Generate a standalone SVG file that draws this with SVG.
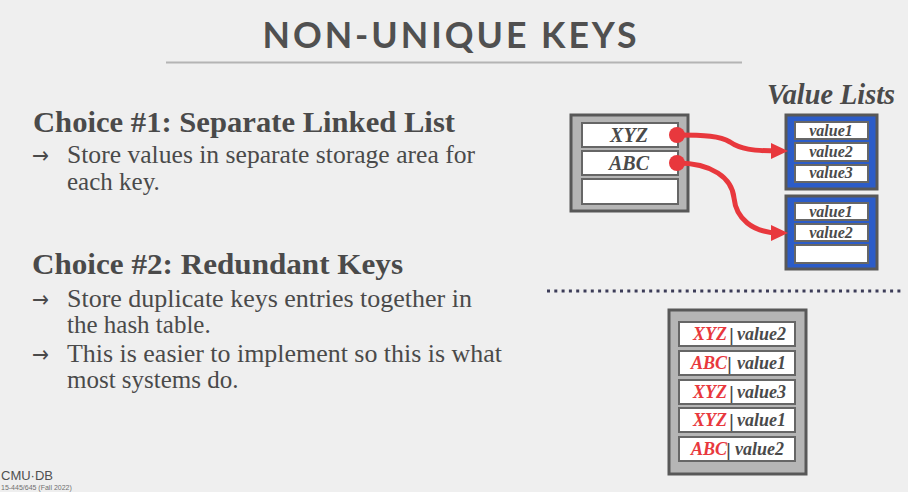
<svg xmlns="http://www.w3.org/2000/svg" width="908" height="492" viewBox="0 0 908 492">
  <defs>
    <style>
      .title { font-family: "Lato", "Liberation Sans", sans-serif; font-weight: 700; font-size: 36px; fill: #505050; letter-spacing: 3px; }
      .head { font-family: "Liberation Serif", "DejaVu Serif", serif; font-weight: 700; font-size: 29px; fill: #4a4a4a; }
      .txt { font-family: "Liberation Serif", "Times New Roman", "DejaVu Serif", serif; font-weight: 400; font-size: 25px; fill: #4a4a4a; }
      .arrow { font-family: "DejaVu Sans", sans-serif; font-size: 23px; fill: #4a4a4a; }
      .lbl { font-family: "Liberation Serif", "DejaVu Serif", serif; font-weight: 700; font-style: italic; fill: #4a4a4a; }
      .key { font-size: 20px; text-anchor: middle; }
      .val { font-size: 16px; text-anchor: middle; }
      .rowk { font-size: 18px; fill: #e8383d; text-anchor: end; }
      .rowv { font-size: 18px; }
      .bar { font-family: "Liberation Sans", sans-serif; font-size: 19px; fill: #4a4a4a; }
      .frame { fill: #b5b5b5; stroke: #585858; stroke-width: 3; }
      .vframe { fill: #2c5cc8; stroke: #585858; stroke-width: 3; }
      .slot { fill: #ffffff; stroke: #666666; stroke-width: 2; }
      .link { fill: none; stroke: #e8383d; stroke-width: 5; }
    </style>
    <marker id="head" viewBox="0 0 17 16" markerWidth="17" markerHeight="16" refX="9" refY="8" orient="auto" markerUnits="userSpaceOnUse">
      <path d="M0,0 L17,8 L0,16 z" fill="#e8383d"/>
    </marker>
  </defs>

  <rect width="908" height="492" fill="#efefef"/>

  <!-- heading -->
  <text class="title" x="451" y="48" text-anchor="middle" textLength="377" lengthAdjust="spacingAndGlyphs">NON-UNIQUE KEYS</text>
  <line x1="166" y1="62.5" x2="742" y2="62.5" stroke="#b4b4b4" stroke-width="2"/>

  <!-- bullet text -->
  <g id="choice1">
    <text class="head" x="33" y="132" textLength="422" lengthAdjust="spacingAndGlyphs">Choice #1: Separate Linked List</text>
    <text class="arrow" x="32" y="163" textLength="17" lengthAdjust="spacingAndGlyphs">→</text>
    <text class="txt" x="67" y="163" textLength="408" lengthAdjust="spacingAndGlyphs">Store values in separate storage area for</text>
    <text class="txt" x="67" y="190">each key.</text>
  </g>
  <g id="choice2">
    <text class="head" x="32" y="274" textLength="371" lengthAdjust="spacingAndGlyphs">Choice #2: Redundant Keys</text>
    <text class="arrow" x="32" y="307" textLength="17" lengthAdjust="spacingAndGlyphs">→</text>
    <text class="txt" x="67" y="307" textLength="405" lengthAdjust="spacingAndGlyphs">Store duplicate keys entries together in</text>
    <text class="txt" x="67" y="333">the hash table.</text>
    <text class="arrow" x="32" y="362" textLength="17" lengthAdjust="spacingAndGlyphs">→</text>
    <text class="txt" x="67" y="362" textLength="435" lengthAdjust="spacingAndGlyphs">This is easier to implement so this is what</text>
    <text class="txt" x="67" y="388">most systems do.</text>
  </g>

  <!-- hash table with one slot per key -->
  <g id="hash-table">
    <rect class="frame" x="571" y="115" width="117" height="96"/>
    <rect class="slot" x="582" y="123" width="96" height="24"/>
    <rect class="slot" x="582" y="151" width="96" height="24"/>
    <rect class="slot" x="582" y="179" width="96" height="25"/>
    <text class="lbl key" x="629" y="142">XYZ</text>
    <text class="lbl key" x="629" y="170">ABC</text>
  </g>

  <text class="lbl" x="767" y="104" font-size="30" textLength="128" lengthAdjust="spacingAndGlyphs">Value Lists</text>

  <g id="value-list-1">
    <rect class="vframe" x="786" y="115" width="91" height="74"/>
    <rect class="slot" x="795" y="122" width="73" height="17"/>
    <rect class="slot" x="795" y="143" width="73" height="18"/>
    <rect class="slot" x="795" y="165" width="73" height="17"/>
    <text class="lbl val" x="831" y="136">value1</text>
    <text class="lbl val" x="831" y="157">value2</text>
    <text class="lbl val" x="831" y="178">value3</text>
  </g>

  <g id="value-list-2">
    <rect class="vframe" x="786" y="196" width="91" height="73"/>
    <rect class="slot" x="795" y="203" width="73" height="17"/>
    <rect class="slot" x="795" y="224" width="73" height="17"/>
    <rect class="slot" x="795" y="245" width="73" height="18"/>
    <text class="lbl val" x="831" y="217">value1</text>
    <text class="lbl val" x="831" y="238">value2</text>
  </g>

  <g id="connectors">
    <path class="link" d="M677,135 C705,135 720,136 730,142 C740,149 752,151 780,151" marker-end="url(#head)"/>
    <path class="link" d="M677,163 C712,163 732,178 734,198 C736,218 752,233 780,233" marker-end="url(#head)"/>
    <circle cx="677" cy="135" r="8" fill="#e8383d"/>
    <circle cx="677" cy="163" r="8" fill="#e8383d"/>
  </g>

  <!-- separator -->
  <line x1="547" y1="291" x2="904" y2="291" stroke="#3c3c58" stroke-width="3" stroke-dasharray="3 4.3"/>

  <!-- hash table storing duplicate keys -->
  <g id="redundant-table">
    <rect class="frame" x="669" y="310" width="137" height="164"/>
    <rect class="slot" x="679" y="322" width="116" height="24"/>
    <rect class="slot" x="679" y="351" width="116" height="24"/>
    <rect class="slot" x="679" y="380" width="116" height="24"/>
    <rect class="slot" x="679" y="408" width="116" height="24"/>
    <rect class="slot" x="679" y="437" width="116" height="24"/>

    <text class="lbl rowk" x="727" y="340">XYZ</text>
    <text class="bar" x="729" y="341">|</text>
    <text class="lbl rowv" x="737" y="340">value2</text>

    <text class="lbl rowk" x="727" y="369">ABC</text>
    <text class="bar" x="727" y="370">|</text>
    <text class="lbl rowv" x="737" y="369">value1</text>

    <text class="lbl rowk" x="727" y="398">XYZ</text>
    <text class="bar" x="729" y="399">|</text>
    <text class="lbl rowv" x="737" y="398">value3</text>

    <text class="lbl rowk" x="727" y="426">XYZ</text>
    <text class="bar" x="729" y="427">|</text>
    <text class="lbl rowv" x="737" y="426">value1</text>

    <text class="lbl rowk" x="727" y="455">ABC</text>
    <text class="bar" x="726" y="456">|</text>
    <text class="lbl rowv" x="735" y="455">value2</text>
  </g>

  <!-- footer logo -->
  <text x="1" y="480" font-family="Liberation Sans, sans-serif" font-size="13" fill="#505050">CMU·DB</text>
  <text x="1" y="490" font-family="Liberation Sans, sans-serif" font-size="7" fill="#707070">15-445/645 (Fall 2022)</text>
</svg>
